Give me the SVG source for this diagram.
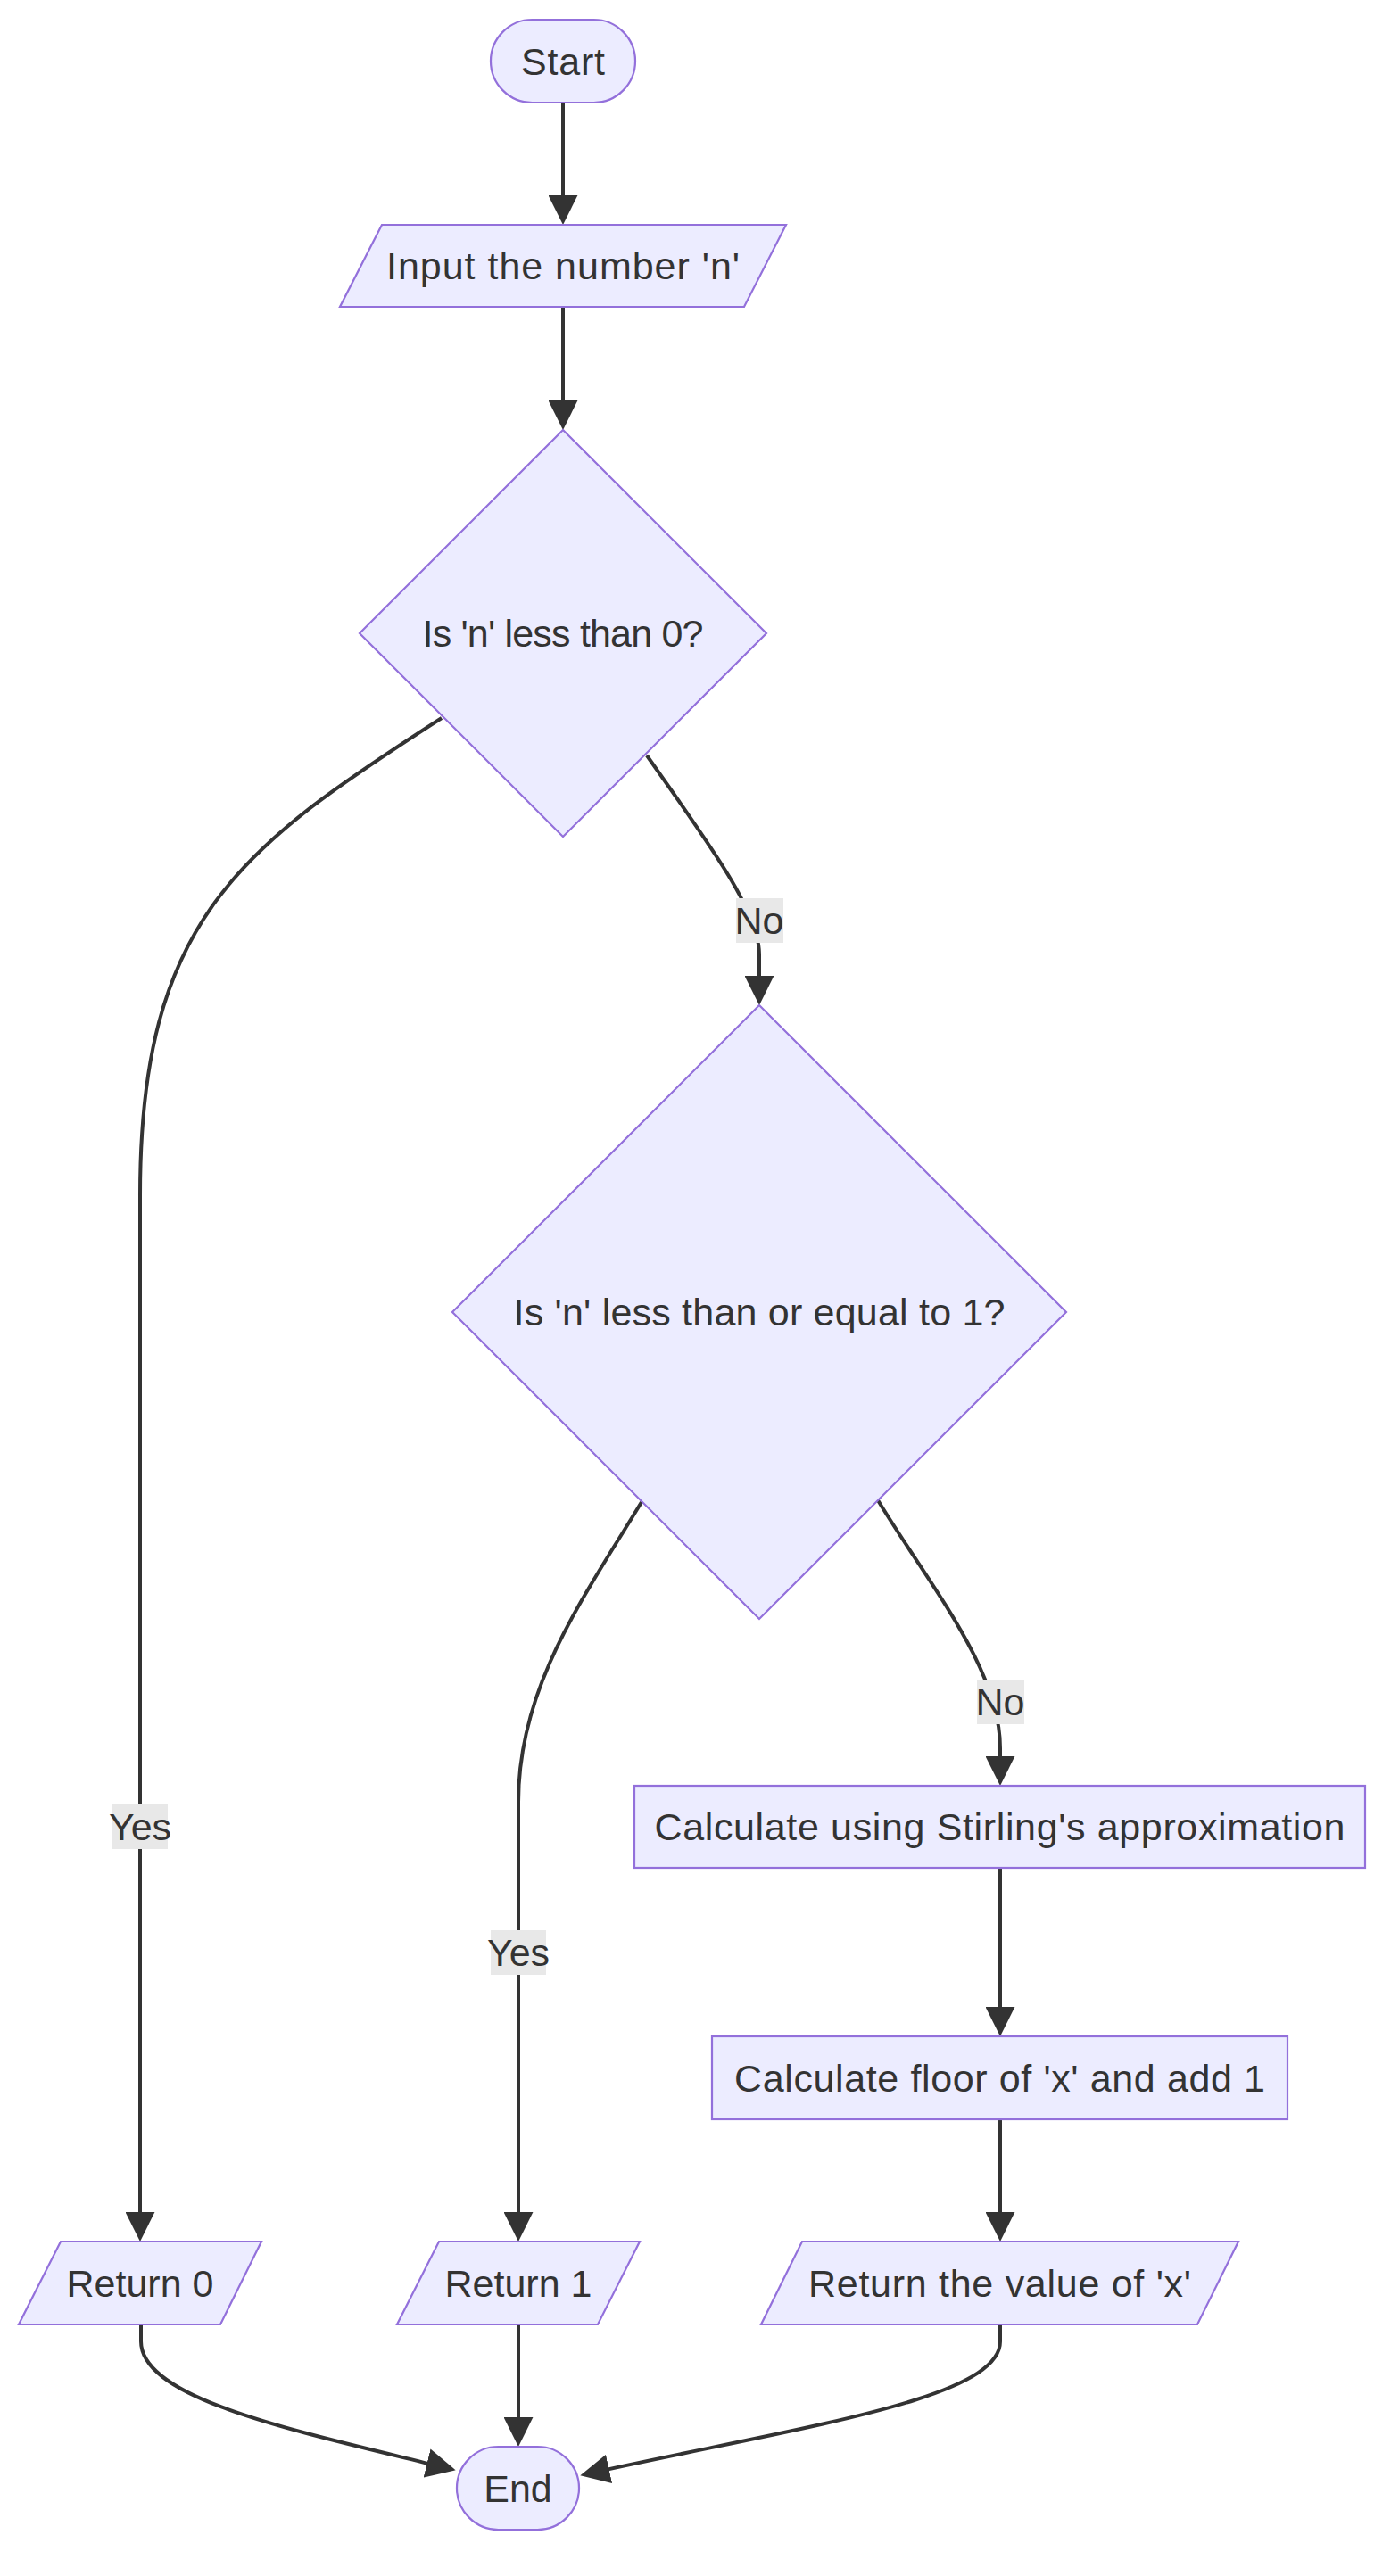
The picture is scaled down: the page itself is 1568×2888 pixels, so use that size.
<svg xmlns="http://www.w3.org/2000/svg" width="1568" height="2888" viewBox="0 0 1568 2888">
<style>
.node{fill:#ECECFF;stroke:#9370DB;stroke-width:2.2}
.t{font-family:"Liberation Sans",Arial,sans-serif;font-size:43px;fill:#333333;text-anchor:middle}
.edge{fill:none;stroke:#333333;stroke-width:4}
.lbl{fill:#E8E8E8}
</style>
<defs>
<marker id="arrow" viewBox="0 0 10 10" refX="7" refY="5" markerUnits="userSpaceOnUse" markerWidth="33" markerHeight="33" orient="auto">
<path d="M0,0 L10,5 L0,10 z" fill="#333333"/>
</marker>
</defs>
<rect width="1568" height="2888" fill="#ffffff"/>
<g id="connectors">
<path class="edge" marker-end="url(#arrow)" d="M631,115 L631,242"/>
<path class="edge" marker-end="url(#arrow)" d="M631,344 L631,472"/>
<path class="edge" marker-end="url(#arrow)" d="M495,805 C270,950 157,1030 157,1340 L157,2503"/>
<path class="edge" marker-end="url(#arrow)" d="M725,847 C790,940 851,1020 851,1070 L851,1117"/>
<path class="edge" marker-end="url(#arrow)" d="M719,1684 C655,1790 581,1890 581,2020 L581,2503"/>
<path class="edge" marker-end="url(#arrow)" d="M984,1682 C1040,1775 1121,1870 1121,1960 L1121,1992"/>
<path class="edge" marker-end="url(#arrow)" d="M1121,2094 L1121,2273"/>
<path class="edge" marker-end="url(#arrow)" d="M1121,2376 L1121,2503"/>
<path class="edge" marker-end="url(#arrow)" d="M158,2606 L158,2625 C158,2690 330,2725 501,2767"/>
<path class="edge" marker-end="url(#arrow)" d="M581,2606 L581,2733"/>
<path class="edge" marker-end="url(#arrow)" d="M1121,2606 L1121,2625 C1121,2690 900,2720 660,2773"/>
<g id="label-yes-1"><rect class="lbl" x="126" y="2023" width="62" height="50"/><text class="t" x="157" y="2063">Yes</text></g>
<g id="label-no-1"><rect class="lbl" x="825" y="1007" width="53" height="50"/><text class="t" x="851" y="1047">No</text></g>
<g id="label-yes-2"><rect class="lbl" x="550" y="2164" width="62" height="50"/><text class="t" x="581" y="2204">Yes</text></g>
<g id="label-no-2"><rect class="lbl" x="1095" y="1883" width="53" height="50"/><text class="t" x="1121" y="1923">No</text></g>
</g>
<g id="start"><rect class="node" x="550" y="22" width="162" height="93" rx="46.5" ry="46.5"/><text class="t" x="631" y="84" textLength="94">Start</text></g>
<g id="input"><polygon class="node" points="428,252 881,252 834,344 381,344"/><text class="t" x="631" y="313" textLength="396">Input the number 'n'</text></g>
<g id="check-negative"><polygon class="node" points="631,482 859,710 631,938 403,710"/><text class="t" x="631" y="725" textLength="315">Is 'n' less than 0?</text></g>
<g id="check-le-one"><polygon class="node" points="851,1127 1195,1471 851,1815 507,1471"/><text class="t" x="851" y="1486" textLength="551">Is 'n' less than or equal to 1?</text></g>
<g id="stirling"><rect class="node" x="711" y="2002" width="819" height="92"/><text class="t" x="1120.5" y="2063" textLength="774">Calculate using Stirling's approximation</text></g>
<g id="floor"><rect class="node" x="798" y="2283" width="645" height="93"/><text class="t" x="1120.5" y="2345" textLength="595">Calculate floor of 'x' and add 1</text></g>
<g id="return-0"><polygon class="node" points="68,2513 293,2513 247,2606 21,2606"/><text class="t" x="157" y="2575">Return 0</text></g>
<g id="return-1"><polygon class="node" points="492,2513 717,2513 670,2606 445,2606"/><text class="t" x="581" y="2575">Return 1</text></g>
<g id="return-x"><polygon class="node" points="899,2513 1388,2513 1342,2606 853,2606"/><text class="t" x="1120.5" y="2575" textLength="429">Return the value of 'x'</text></g>
<g id="end"><rect class="node" x="512" y="2743" width="137" height="93" rx="46.5" ry="46.5"/><text class="t" x="580.5" y="2805">End</text></g>
</svg>
